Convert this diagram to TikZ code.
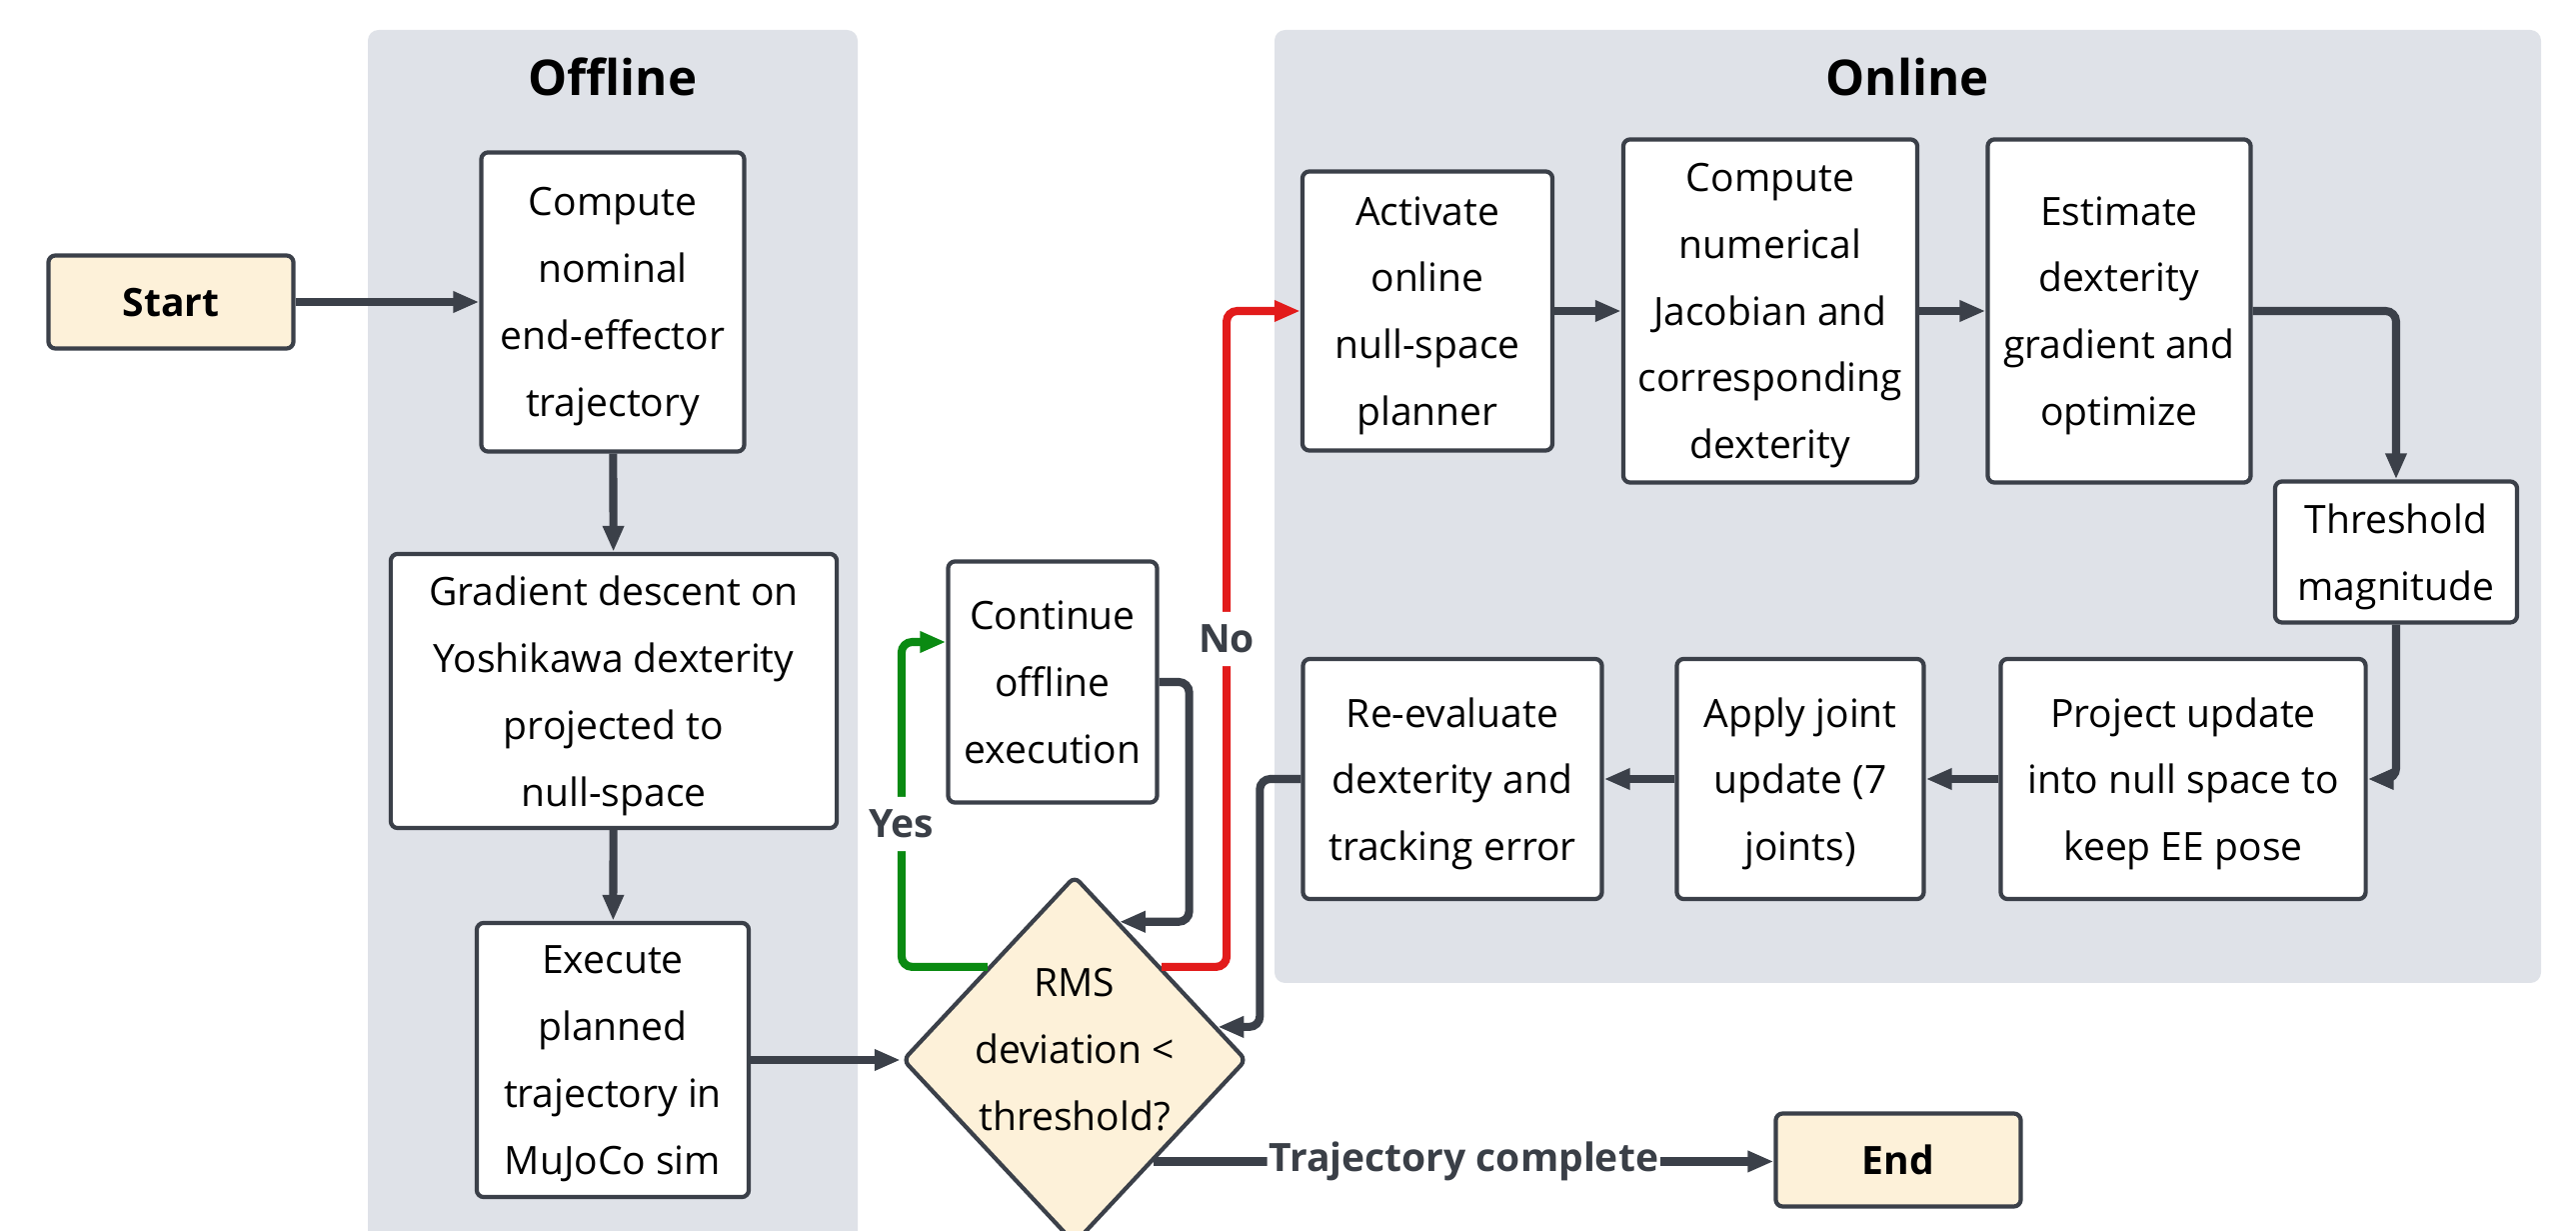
\documentclass[tikz,border=0pt]{standalone}
\usepackage{fontspec}
\setmainfont{Open Sans}
\usetikzlibrary{arrows.meta,positioning,calc,shapes.geometric}
\definecolor{cInk}{HTML}{3B4049}
\definecolor{cPanel}{HTML}{DFE2E8}
\definecolor{cCream}{HTML}{FDF1D9}
\definecolor{cRed}{HTML}{E21B1B}
\definecolor{cGreen}{HTML}{0A8A12}
\definecolor{cLbl}{HTML}{3A3F47}
\newcommand{\boxfont}{\fontsize{11.1}{19}\selectfont}
\tikzset{
  procbox/.style={draw=cInk,fill=white,rounded corners=2pt,line width=1.2pt,align=center,font=\boxfont,inner sep=2pt,text=black,text depth=-0.08cm},
  termbox/.style={procbox,fill=cCream,font=\boxfont\bfseries,minimum width=2.45cm,minimum height=0.93cm,text depth=0pt},
  decide/.style={diamond,draw=cInk,fill=cCream,line width=1.2pt,rounded corners=2pt,align=center,font=\boxfont,inner sep=0pt,minimum width=3.44cm,minimum height=3.68cm,text height=1.41cm},
  arr/.style={-{Triangle[length=0.26cm,width=0.2cm]},line width=2.3pt,color=cInk,rounded corners=3pt},
  yesarr/.style={arr,color=cGreen},
  noarr/.style={arr,color=cRed},
  lbl/.style={font=\boxfont\bfseries,text=cLbl,fill=white,inner xsep=0.5pt,inner ysep=0.13cm},
  panel/.style={fill=cPanel,rounded corners=3pt},
  ttl/.style={font=\fontsize{14}{17}\selectfont\bfseries,text=black},
}

\begin{document}
\begin{tikzpicture}[x=0.01cm,y=-0.01cm]
  \useasboundingbox (0,0) rectangle (2577,1231);
  % panels
  \fill[panel] (368,30) rectangle (858,1260);
  \fill[panel] (1275,30) rectangle (2542,983);
  \node[ttl] (offttl) at (613,77) {Offline};
  \node[ttl] (onttl) at (1908,77) {Online};
  % offline side
  \node[termbox] (start) at (171,302) {Start};
  \node[procbox,minimum width=2.63cm,minimum height=2.99cm] (nominal) at (613,302) {Compute\\nominal\\end-effector\\trajectory};
  \node[procbox,minimum width=4.46cm,minimum height=2.74cm] (graddesc) at (614,691) {Gradient descent on\\Yoshikawa dexterity\\projected to\\null-space};
  \node[procbox,minimum width=2.72cm,minimum height=2.74cm] (execute) at (613,1060) {Execute\\planned\\trajectory in\\MuJoCo sim};
  \node[decide] (check) at (1075,1060) {RMS\\deviation <\\threshold?};
  \node[procbox,minimum width=2.09cm,minimum height=2.41cm] (continue) at (1053,682) {Continue\\offline\\execution};
  \node[termbox] (endnode) at (1899,1160) {End};
  % online side
  \node[procbox,minimum width=2.5cm,minimum height=2.79cm] (activate) at (1428,311) {Activate\\online\\null-space\\planner};
  \node[procbox,minimum width=2.94cm,minimum height=3.43cm] (jacobian) at (1771,311) {Compute\\numerical\\Jacobian and\\corresponding\\dexterity};
  \node[procbox,minimum width=2.63cm,minimum height=3.43cm] (estimate) at (2120,311) {Estimate\\dexterity\\gradient and\\optimize};
  \node[procbox,minimum width=2.42cm,minimum height=1.41cm] (thresh) at (2397,552) {Threshold\\magnitude};
  \node[procbox,minimum width=3.65cm,minimum height=2.4cm] (project) at (2184,779) {Project update\\into null space to\\keep EE pose};
  \node[procbox,minimum width=2.47cm,minimum height=2.4cm] (apply) at (1801,779) {Apply joint\\update (7\\joints)};
  \node[procbox,minimum width=2.99cm,minimum height=2.4cm] (reeval) at (1453,779) {Re-evaluate\\dexterity and\\tracking error};
  % connectors
  \draw[arr] (start) -- (nominal);
  \draw[arr] (nominal) -- (graddesc);
  \draw[arr] (graddesc) -- (execute);
  \draw[arr] (execute) -- (check.west);
  \draw[yesarr] (check.north west) -- ++(-86,0) |- ($(continue.west)+(0,-40)$) node[lbl,pos=0.22] {Yes};
  \draw[noarr] (check.north east) -- ++(65,0) |- (activate.west) node[lbl,pos=0.25] {No};
  \draw[arr] (continue.east) -- ++(30,0) |- (check.72);
  \draw[arr] (check.-52) -- (check.-52 -| endnode.west) node[lbl,midway] {Trajectory complete};
  \draw[arr] (activate) -- (jacobian);
  \draw[arr] (jacobian) -- (estimate);
  \draw[arr] (estimate.east) -| (thresh.north);
  \draw[arr] (thresh.south) |- (project.east);
  \draw[arr] (project) -- (apply);
  \draw[arr] (apply) -- (reeval);
  \draw[arr] (reeval.west) -- ++(-41,0) |- (check.13);
\end{tikzpicture}
\end{document}
